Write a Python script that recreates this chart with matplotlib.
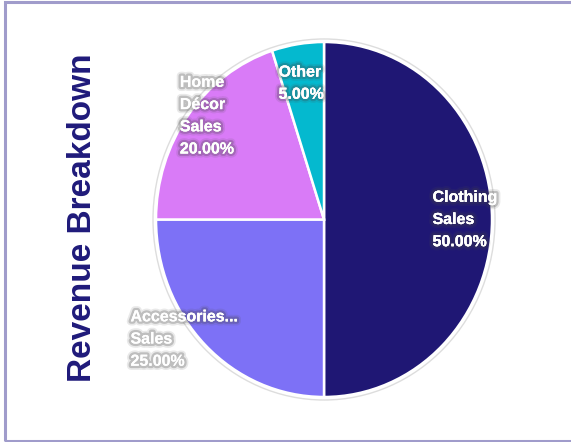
import matplotlib
matplotlib.use("Agg")
import numpy as np
import matplotlib.pyplot as plt
import matplotlib.patheffects as pe
from matplotlib.patches import Rectangle, Ellipse

categories = ["Clothing\nSales", "Accessories...\nSales", "Home\nDécor\nSales", "Other"]
values = [50, 25, 20, 5]
colors = ["#1f1774", "#7d71f6", "#d97bf7", "#04b9cf"]
title = "Revenue Breakdown"

# label anchor: (radius factor, angle tweak in degrees) around each wedge's middle
label_r = [0.84, 1.07, 0.91, 0.78]
label_dang = [0, -6, -4, 1]


def main():
    fig = plt.figure(figsize=(5.71, 4.42), dpi=100)
    fig.patch.set_facecolor("white")

    # frame of the card (left / top / bottom visible)
    fig.patches.append(Rectangle((4.5 / 571, 1.5 / 442), 1.2, 1 - 3 / 442,
                                 transform=fig.transFigure, fill=False,
                                 edgecolor="#a09ccb", linewidth=2.2))

    ax = fig.add_axes([0.2144, 0.0215, 0.7061, 0.9638])
    wedges, _ = ax.pie(values, colors=colors, startangle=90, counterclock=False,
                       wedgeprops=dict(edgecolor="white", linewidth=1.8))
    ax.set_aspect("auto")
    ax.set_xlim(-1.2, 1.2)
    ax.set_ylim(-1.2, 1.2)
    ax.add_patch(Ellipse((0, 0), 2.036, 2.034, fill=False, edgecolor="#dddddd",
                         linewidth=1.0, zorder=0))

    glow = [pe.withStroke(linewidth=6, foreground=(0.3, 0.3, 0.3, 0.12)),
            pe.withStroke(linewidth=3.5, foreground=(0.25, 0.25, 0.25, 0.25)),
            pe.Normal()]
    total = sum(values)
    for w, lab, v, r, da in zip(wedges, categories, values, label_r, label_dang):
        mid = np.deg2rad((w.theta1 + w.theta2) / 2 + da)
        txt = f"{lab}\n{v / total * 100:.2f}%"
        ax.text(r * np.cos(mid), r * np.sin(mid), txt, ha="center", va="center",
                multialignment="left", color="white", fontsize=11.5,
                fontweight="bold", linespacing=1.6,
                family=["Liberation Sans", "DejaVu Sans"],
                path_effects=glow)

    fig.text(83 / 571, 1 - 218 / 442, title, rotation=90, ha="center", va="center",
             fontsize=24, fontweight="bold", color="#1f1a7a", family="Liberation Sans")

    fig.savefig("out.png", dpi=100)
    plt.close(fig)


if __name__ == "__main__":
    main()
